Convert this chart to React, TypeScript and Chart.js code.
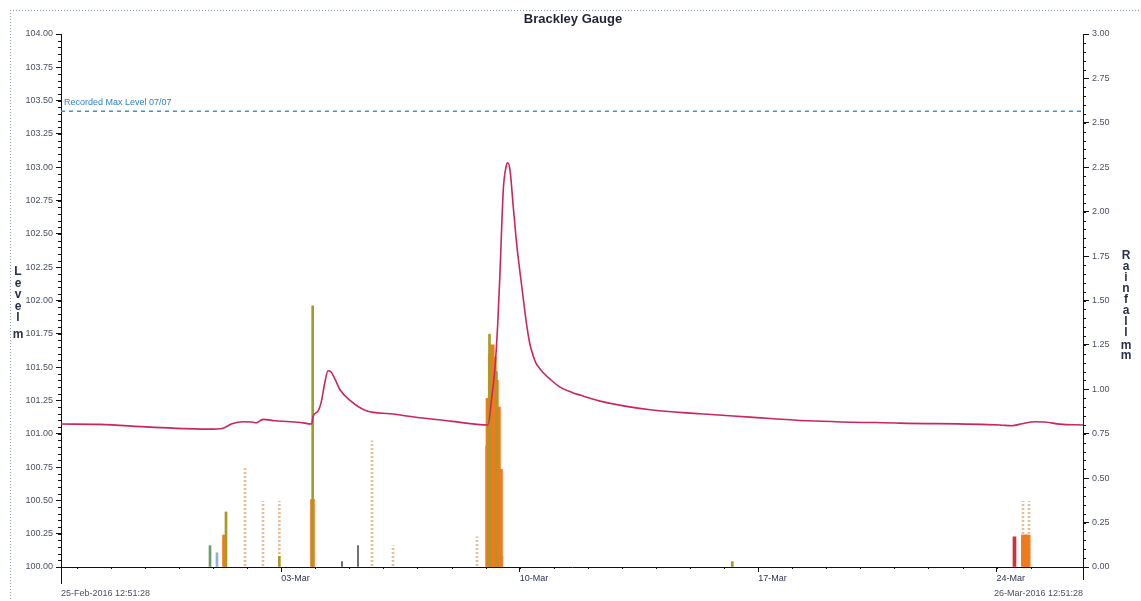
import React, { useEffect, useRef } from 'react';
import { Chart, registerables } from 'chart.js';

Chart.register(...registerables);

// ---- data (x values are days since 25-Feb-2016 12:51:28) ----
const chartTitle = 'Brackley Gauge';
const startLabel = '25-Feb-2016 12:51:28';
const endLabel = '26-Mar-2016 12:51:28';
const xMin = 0;
const xMax = 30;
const dateTickDays = [6.464, 13.464, 20.464, 27.464];
const dateTickLabels = ['03-Mar', '10-Mar', '17-Mar', '24-Mar'];

const levelMin = 100;
const levelMax = 104;
const levelStep = 0.25;
const rainMin = 0;
const rainMax = 3;
const rainStep = 0.25;

const maxLevelValue = 103.42;
const maxLevelLabel = 'Recorded Max Level 07/07';

const levelDays = [
  0, 1.145, 2.612, 4.374, 4.726, 5.02, 5.342, 5.607, 5.724, 5.929, 6.28, 7.016,
  7.359, 7.397, 7.544, 7.632, 7.749, 7.837, 7.925, 8.043, 8.19, 8.483, 8.982,
  9.657, 10.538, 11.419, 12.534, 12.643, 12.74, 12.819, 12.886, 12.983, 13.062,
  13.112, 13.18, 13.277, 13.386, 13.474, 13.591, 13.679, 13.767, 13.855, 13.943,
  14.05, 14.149, 14.354, 14.648, 15.0, 15.235, 15.822, 17.29, 18.757, 20.225,
  21.693, 24.628, 27.563, 27.915, 28.209, 28.591, 28.884, 29.325, 30,
];
const levelValues = [
  101.073, 101.07, 101.05, 101.035, 101.04, 101.075, 101.09, 101.088, 101.082,
  101.108, 101.098, 101.085, 101.073, 101.128, 101.17, 101.23, 101.39, 101.473,
  101.465, 101.41, 101.33, 101.25, 101.17, 101.15, 101.12, 101.095, 101.066,
  101.27, 101.5, 101.82, 102.21, 102.83, 103.0, 103.034, 102.98, 102.7, 102.4,
  102.21, 101.97, 101.8, 101.67, 101.59, 101.53, 101.49, 101.46, 101.41, 101.35,
  101.31, 101.29, 101.245, 101.18, 101.15, 101.125, 101.1, 101.08, 101.066,
  101.06, 101.075, 101.09, 101.088, 101.072, 101.066,
];

const orangeRainDays = [4.8, 7.382, 12.534, 12.6, 12.66, 12.72, 12.78, 12.84, 12.9, 28.25, 28.32, 28.39];
const orangeRainValues = [0.18, 0.38, 0.95, 1.2, 1.25, 1.18, 1.05, 0.9, 0.55, 0.18, 0.18, 0.18];

const oliveRainDays = [4.843, 6.408, 7.388, 12.578, 12.783, 19.705];
const oliveRainValues = [0.31, 0.06, 1.47, 1.31, 1.1, 0.03];

const redRainDays = [27.989];
const redRainValues = [0.17];

const greenRainDays = [4.374];
const greenRainValues = [0.12];

const blueRainDays = [4.579, 12.49, 12.945];
const blueRainValues = [0.08, 0.68, 0.06];

const darkRainDays = [8.248, 8.718];
const darkRainValues = [0.03, 0.12];

const faintRainDays = [5.401, 5.929, 6.408, 9.129, 9.745, 12.211, 28.238, 28.414];
const faintRainValues = [0.555, 0.37, 0.37, 0.71, 0.12, 0.17, 0.37, 0.37];

const levelAxisTitle = ['L', 'e', 'v', 'e', 'l'];
const levelUnit = 'm';
const rainAxisTitle = ['R', 'a', 'i', 'n', 'f', 'a', 'l', 'l'];
const rainUnit = ['m', 'm'];

const zip = (xs: number[], ys: number[]) => xs.map((x, i) => ({ x, y: ys[i] }));

const FONT = '"Liberation Sans", Arial, sans-serif';
const LABEL_COLOR = '#4a5064';

function dottedPattern(color: string) {
  const c = document.createElement('canvas');
  c.width = 2;
  c.height = 4;
  const g = c.getContext('2d')!;
  g.fillStyle = color;
  g.fillRect(0, 0, 2, 2);
  return g.createPattern(c, 'repeat')!;
}

const decorPlugin = {
  id: 'decor',
  beforeDraw(chart: any) {
    const ctx = chart.ctx;
    ctx.save();
    ctx.fillStyle = '#ffffff';
    ctx.fillRect(0, 0, chart.width, chart.height);
    ctx.strokeStyle = '#8a98b8';
    ctx.lineWidth = 1;
    ctx.setLineDash([1, 2]);
    ctx.beginPath();
    ctx.moveTo(10, 10.5);
    ctx.lineTo(chart.width, 10.5);
    ctx.moveTo(10.5, 10);
    ctx.lineTo(10.5, chart.height);
    ctx.stroke();
    ctx.restore();
  },
  afterDraw(chart: any) {
    const ctx = chart.ctx;
    const { left, right, bottom } = chart.chartArea;
    const ys = chart.scales.y;
    const yr = chart.scales.y1;
    const xs = chart.scales.x;
    ctx.save();
    // title
    ctx.font = `bold 13px ${FONT}`;
    ctx.fillStyle = '#1e2438';
    ctx.textAlign = 'center';
    ctx.textBaseline = 'middle';
    ctx.fillText(chartTitle, (left + right) / 2 + 1, 19);

    // minor ticks
    ctx.strokeStyle = '#111';
    ctx.lineWidth = 1;
    ctx.beginPath();
    for (let i = 0; i <= (levelMax - levelMin) / 0.05 + 0.001; i++) {
      const py = Math.round(ys.getPixelForValue(levelMin + i * 0.05)) + 0.5;
      ctx.moveTo(left - 3, py);
      ctx.lineTo(left, py);
    }
    for (let i = 0; i <= (rainMax - rainMin) / 0.05 + 0.001; i++) {
      const py = Math.round(yr.getPixelForValue(rainMin + i * 0.05)) + 0.5;
      ctx.moveTo(right, py);
      ctx.lineTo(right + 3, py);
    }
    for (let d = 1; d < xMax; d++) {
      const px = Math.round(xs.getPixelForValue(d - 0.536)) + 0.5;
      ctx.moveTo(px, bottom);
      ctx.lineTo(px, bottom + 2);
    }
    // end ticks
    ctx.moveTo(left + 0.5, bottom);
    ctx.lineTo(left + 0.5, bottom + 17);
    ctx.moveTo(right + 0.5, bottom);
    ctx.lineTo(right + 0.5, bottom + 13);
    ctx.stroke();

    // start / end labels
    ctx.font = `9px ${FONT}`;
    ctx.fillStyle = LABEL_COLOR;
    ctx.textBaseline = 'middle';
    ctx.textAlign = 'left';
    ctx.fillText(startLabel, left, bottom + 27);
    ctx.textAlign = 'right';
    ctx.fillText(endLabel, right, bottom + 27);

    // max level label
    ctx.font = `9px ${FONT}`;
    ctx.fillStyle = '#2f7fcc';
    ctx.textAlign = 'left';
    ctx.fillText(maxLevelLabel, left + 3, ys.getPixelForValue(maxLevelValue) - 9);

    // axis titles (stacked letters)
    ctx.font = `bold 12px ${FONT}`;
    ctx.fillStyle = '#2a3048';
    ctx.textAlign = 'center';
    levelAxisTitle.forEach((ch, i) => ctx.fillText(ch, 18, 272 + i * 11.5));
    ctx.fillText(levelUnit, 18, 335);
    rainAxisTitle.forEach((ch, i) => ctx.fillText(ch, 1126, 256 + i * 11));
    rainUnit.forEach((ch, i) => ctx.fillText(ch, 1126, 346 + i * 10));
    ctx.restore();
  },
};

export default function App() {
  const ref = useRef<HTMLCanvasElement>(null);

  useEffect(() => {
    if (!ref.current) return;
    const faint = dottedPattern('rgba(230,160,100,0.7)');
    const barDs = (label: string, xs: number[], vs: number[], color: any, thick: number, order: number) => ({
      type: 'bar' as const,
      label,
      data: zip(xs, vs),
      yAxisID: 'y1',
      backgroundColor: color,
      borderWidth: 0,
      barThickness: thick,
      grouped: false,
      order,
    });
    const chart = new Chart(ref.current, {
      type: 'line',
      data: {
        datasets: [
          {
            type: 'line',
            label: 'Level',
            data: zip(levelDays, levelValues),
            yAxisID: 'y',
            borderColor: '#c8285a',
            borderWidth: 1.6,
            pointRadius: 0,
            cubicInterpolationMode: 'monotone',
            order: 0,
          },
          {
            type: 'line',
            label: maxLevelLabel,
            data: [
              { x: xMin, y: maxLevelValue },
              { x: xMax, y: maxLevelValue },
            ],
            yAxisID: 'y',
            borderColor: '#3d8fd6',
            borderWidth: 1.5,
            borderDash: [4, 4],
            pointRadius: 0,
            order: 1,
          },
          barDs('faint', faintRainDays, faintRainValues, faint, 2, 8),
          barDs('blue', blueRainDays, blueRainValues, '#8ab4e0', 2, 7),
          barDs('orange', orangeRainDays, orangeRainValues, '#f07a1e', 4, 6),
          barDs('red', redRainDays, redRainValues, '#d0303c', 3, 5),
          barDs('olive', oliveRainDays, oliveRainValues, '#a89a26', 2, 4),
          barDs('green', greenRainDays, greenRainValues, '#6a9e68', 2, 3),
          barDs('dark', darkRainDays, darkRainValues, '#555555', 1, 2),
        ] as any,
      },
      options: {
        animation: false,
        responsive: false,
        maintainAspectRatio: false,
        layout: { padding: { top: 34, left: 0, right: 0, bottom: 0 } },
        plugins: {
          legend: { display: false },
          title: { display: false },
          tooltip: { enabled: false },
        },
        scales: {
          x: {
            type: 'linear',
            min: xMin,
            max: xMax,
            offset: false,
            afterBuildTicks: (scale: any) => {
              scale.ticks = dateTickDays.map((v) => ({ value: v }));
            },
            afterFit: (scale: any) => {
              scale.height = 34;
            },
            grid: { display: true, offset: false, drawOnChartArea: false, color: '#111', tickLength: 5 },
            border: { display: true, color: '#111', width: 1 },
            ticks: {
              autoSkip: false,
              maxRotation: 0,
              align: 'start',
              padding: 1,
              color: '#2c3450',
              font: { family: FONT, size: 9 },
              callback: (v: any) => {
                const i = dateTickDays.indexOf(Number(v));
                return i >= 0 ? dateTickLabels[i] : '';
              },
            },
          },
          y: {
            type: 'linear',
            position: 'left',
            min: levelMin,
            max: levelMax,
            afterFit: (scale: any) => {
              scale.width = 61;
            },
            grid: { display: true, drawOnChartArea: false, color: '#111', tickLength: 5 },
            border: { display: true, color: '#111', width: 1 },
            ticks: {
              stepSize: levelStep,
              padding: 3,
              color: LABEL_COLOR,
              font: { family: FONT, size: 9 },
              callback: (v: any) => Number(v).toFixed(2),
            },
          },
          y1: {
            type: 'linear',
            position: 'right',
            min: rainMin,
            max: rainMax,
            afterFit: (scale: any) => {
              scale.width = 58;
            },
            grid: { display: true, drawOnChartArea: false, color: '#111', tickLength: 6 },
            border: { display: true, color: '#111', width: 1 },
            ticks: {
              stepSize: rainStep,
              padding: 3,
              color: LABEL_COLOR,
              font: { family: FONT, size: 9 },
              callback: (v: any) => Number(v).toFixed(2),
            },
          },
        },
      } as any,
      plugins: [decorPlugin],
    });
    return () => chart.destroy();
  }, []);

  return (
    <div style={{ position: 'fixed', left: 0, top: 0, width: 1141, height: 601, background: '#fff' }}>
      <canvas ref={ref} width={1141} height={601} style={{ width: 1141, height: 601, display: 'block' }} />
    </div>
  );
}
